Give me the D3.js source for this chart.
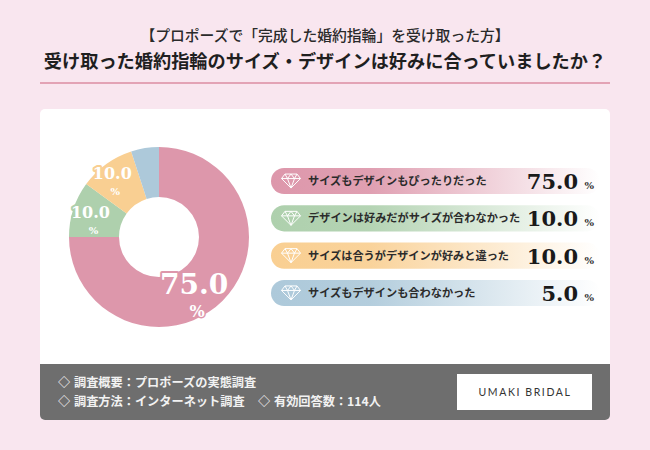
<!DOCTYPE html>
<html lang="ja">
<head>
<meta charset="utf-8">
<script src="https://cdn.jsdelivr.net/npm/d3@7"></script>
<style>
  html, body { margin: 0; padding: 0; background: #f9e6ef; }
  svg { display: block; }
  .jp { font-family: "Noto Sans CJK JP", sans-serif; }
  .num { font-family: "DejaVu Serif", serif; font-weight: bold; }
</style>
</head>
<body>
<svg id="chart" width="650" height="450"></svg>
<script>
const subtitle = "【プロポーズで「完成した婚約指輪」を受け取った方】";
const title = "受け取った婚約指輪のサイズ・デザインは好みに合っていましたか？";
const categories = [
    "サイズもデザインもぴったりだった",
    "デザインは好みだがサイズが合わなかった",
    "サイズは合うがデザインが好みと違った",
    "サイズもデザインも合わなかった"
];
const values = [75, 10, 10, 5];
const colors = ["#dd97ab", "#aed0ad", "#f9cf92", "#adc9da"];
const footerLines = ["調査概要：プロポーズの実態調査", "調査方法：インターネット調査", "有効回答数：114人"];
const brand = "UMAKI BRIDAL";

function init() {
    const svg = d3.select("#chart");
    const defs = svg.append("defs");

    //titles
    svg.append("text").attr("class", "jp")
        .attr("x", 325).attr("y", 41)
        .attr("text-anchor", "middle")
        .attr("font-size", 14.8).attr("font-weight", 500).attr("fill", "#2a2a2a")
        .text(subtitle);
    svg.append("text").attr("class", "jp")
        .attr("x", 325).attr("y", 68)
        .attr("text-anchor", "middle")
        .attr("font-size", 18.2).attr("font-weight", 700).attr("fill", "#1f1f1f")
        .text(title);
    svg.append("rect")
        .attr("x", 40).attr("y", 82).attr("width", 570).attr("height", 2)
        .attr("fill", "#e3a3b5");

    //white card, footer is clipped to its rounded corners
    defs.append("clipPath").attr("id", "card-clip")
        .append("rect")
        .attr("x", 40).attr("y", 109).attr("width", 570).attr("height", 311).attr("rx", 5);
    const card = svg.append("g").attr("clip-path", "url(#card-clip)");
    card.append("rect")
        .attr("x", 40).attr("y", 109).attr("width", 570).attr("height", 311)
        .attr("fill", "#ffffff");
    card.append("rect")
        .attr("x", 40).attr("y", 364).attr("width", 570).attr("height", 56)
        .attr("fill", "#6e6e6e");

    //donut
    const pie = d3.pie().sort(null).value(d => d);
    const arc = d3.arc().innerRadius(40).outerRadius(90);
    const donut = svg.append("g").attr("transform", "translate(159,237)");
    const slices = pie(values);

    donut.selectAll("path").data(slices).enter()
        .append("path")
        .attr("d", arc)
        .attr("fill", (d, i) => colors[i]);

    //labels sit off the centroid, big slice further in
    const labels = donut.selectAll("g.label").data(slices).enter()
        .append("g")
        .attr("class", "label")
        .attr("transform", d => {
            const big = d.value > 50;
            const r = big ? 58 : (d.index === 1 ? 70 : 76);
            const c = d3.arc().innerRadius(r).outerRadius(r).centroid(d);
            return `translate(${c[0] + (big ? -6 : -2)},${c[1] + (big ? 5 : -3)})`;
        })
        .style("display", d => d.value > 5 ? null : "none");

    labels.append("text").attr("class", "num")
        .attr("text-anchor", "middle")
        .attr("y", d => d.value > 50 ? 11 : 6)
        .attr("font-size", d => d.value > 50 ? 28 : 16)
        .attr("fill", "#ffffff")
        .attr("stroke", (d, i) => colors[i])
        .attr("stroke-width", 4)
        .attr("stroke-linejoin", "round")
        .attr("paint-order", "stroke")
        .text(d => d.value.toFixed(1));
    labels.append("text").attr("class", "num")
        .attr("text-anchor", "middle")
        .attr("x", 3)
        .attr("y", d => d.value > 50 ? 34 : 22)
        .attr("font-size", d => d.value > 50 ? 16 : 10)
        .attr("font-weight", "normal")
        .attr("fill", "#ffffff")
        .attr("stroke", (d, i) => colors[i])
        .attr("stroke-width", 3)
        .attr("stroke-linejoin", "round")
        .attr("paint-order", "stroke")
        .text("%");

    //legend bars
    const scaleY = d3.scaleBand()
        .domain(categories)
        .range([168, 306])
        .paddingInner(0.3);

    colors.forEach((c, i) => {
        const g = defs.append("linearGradient").attr("id", "bar-grad-" + i);
        g.append("stop").attr("offset", "0%").attr("stop-color", c);
        g.append("stop").attr("offset", "30%").attr("stop-color", c).attr("stop-opacity", 0.92);
        g.append("stop").attr("offset", "100%").attr("stop-color", c).attr("stop-opacity", 0);
    });

    const rows = svg.selectAll("g.row").data(categories).enter()
        .append("g")
        .attr("class", "row")
        .attr("transform", d => `translate(0,${scaleY(d)})`);
    const h = scaleY.bandwidth();

    rows.append("rect")
        .attr("x", 271).attr("width", 329).attr("height", h).attr("rx", h / 2)
        .attr("fill", (d, i) => `url(#bar-grad-${i})`);

    //diamond icon
    rows.append("g")
        .attr("transform", `translate(291,${h / 2})`)
        .selectAll("path")
        .data(["M-6,-7H6L9.5,-2.5L0,7L-9.5,-2.5Z", "M-9.5,-2.5H9.5", "M-3.5,-2.5L0,7L3.5,-2.5", "M-6,-7L-3.5,-2.5L0,-7L3.5,-2.5L6,-7"])
        .enter()
        .append("path")
        .attr("d", d => d)
        .attr("fill", "none")
        .attr("stroke", "#ffffff")
        .attr("stroke-width", 1)
        .attr("stroke-linejoin", "round");

    rows.append("text").attr("class", "jp")
        .attr("x", 308).attr("y", h / 2 + 4)
        .attr("font-size", 11.2).attr("font-weight", 700).attr("fill", "#2b2b2b")
        .text(d => d);
    rows.append("text").attr("class", "num")
        .attr("x", 578).attr("y", h / 2 + 8)
        .attr("text-anchor", "end")
        .attr("font-size", 21).attr("fill", "#1a1a1a")
        .text((d, i) => values[i].toFixed(1));
    rows.append("text").attr("class", "num")
        .attr("x", 594).attr("y", h / 2 + 8)
        .attr("text-anchor", "end")
        .attr("font-size", 10).attr("font-weight", "normal").attr("fill", "#333333")
        .text("%");

    //footer
    const footer = svg.append("g").attr("class", "jp")
        .attr("font-size", 12.2).attr("font-weight", 700).attr("fill", "#f2f2f2");
    footer.append("text").attr("x", 58).attr("y", 387).text("◇");
    footer.append("text").attr("x", 74).attr("y", 387).text(footerLines[0]);
    footer.append("text").attr("x", 58).attr("y", 406).text("◇");
    footer.append("text").attr("x", 74).attr("y", 406).text(footerLines[1]);
    footer.append("text").attr("x", 258).attr("y", 406).text("◇");
    footer.append("text").attr("x", 274).attr("y", 406).text(footerLines[2]);

    svg.append("rect")
        .attr("x", 457).attr("y", 374).attr("width", 135).attr("height", 36)
        .attr("fill", "#ffffff");
    svg.append("text")
        .attr("x", 525).attr("y", 396)
        .attr("text-anchor", "middle")
        .attr("font-family", "Lato, sans-serif")
        .attr("font-size", 10.5).attr("letter-spacing", 1.6).attr("fill", "#333333")
        .text(brand);
}

window.onload = init;
</script>
</body>
</html>
